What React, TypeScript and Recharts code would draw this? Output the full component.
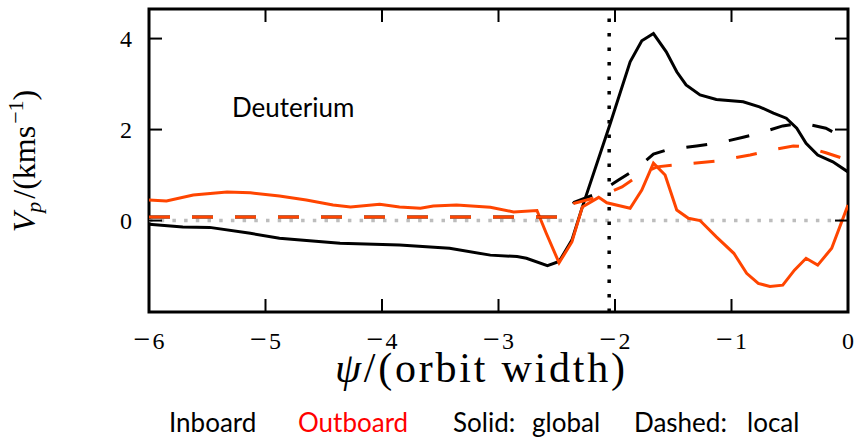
import { LineChart, Line, XAxis, YAxis, ReferenceLine, ReferenceArea } from 'recharts'

// psi positions (orbit widths) and parallel velocity Vp (km/s)
const psiInGlobal = [-6, -5.71, -5.48, -5.13, -4.88, -4.7, -4.36, -3.85, -3.42, -3.07, -2.84, -2.76, -2.58, -2.48, -2.37, -2.28, -2.04, -1.87, -1.77, -1.67, -1.56, -1.47, -1.39, -1.27, -1.13, -0.9, -0.76, -0.64, -0.53, -0.44, -0.36, -0.26, -0.13, 0]
const vpInGlobal = [-0.08, -0.14, -0.15, -0.28, -0.39, -0.43, -0.5, -0.54, -0.61, -0.76, -0.79, -0.83, -0.99, -0.9, -0.43, 0.3, 2.14, 3.49, 3.95, 4.11, 3.71, 3.27, 2.98, 2.76, 2.66, 2.61, 2.5, 2.36, 2.25, 2.03, 1.7, 1.44, 1.29, 1.07]

const psiOutGlobal = [-6, -5.85, -5.62, -5.33, -5.13, -4.88, -4.65, -4.42, -4.27, -4.02, -3.85, -3.67, -3.56, -3.36, -3.07, -2.87, -2.67, -2.59, -2.48, -2.37, -2.28, -2.14, -2.07, -1.87, -1.77, -1.67, -1.57, -1.47, -1.37, -1.27, -1.13, -0.98, -0.87, -0.77, -0.67, -0.56, -0.46, -0.36, -0.26, -0.14, 0]
const vpOutGlobal = [0.45, 0.43, 0.56, 0.63, 0.61, 0.54, 0.45, 0.34, 0.3, 0.36, 0.3, 0.27, 0.32, 0.34, 0.29, 0.19, 0.22, -0.28, -0.93, -0.47, 0.3, 0.51, 0.39, 0.27, 0.67, 1.26, 1.0, 0.23, 0.05, 0.0, -0.36, -0.72, -1.16, -1.38, -1.45, -1.42, -1.09, -0.83, -0.98, -0.61, 0.34]

const psiInLocal = [-6, -2.46, -2.35, -2.14, -1.97, -1.81, -1.67, -1.56, -1.3, -1.1, -0.9, -0.76, -0.56, -0.39, -0.19, 0]
const vpInLocal = [0.08, 0.08, 0.4, 0.61, 0.89, 1.15, 1.46, 1.55, 1.64, 1.71, 1.83, 1.92, 2.08, 2.14, 2.03, 1.77]

const psiOutLocal = [-6, -2.46, -2.35, -2.14, -1.94, -1.79, -1.64, -1.41, -1.13, -0.84, -0.64, -0.47, -0.36, -0.19, 0]
const vpOutLocal = [0.08, 0.08, 0.38, 0.52, 0.74, 1.0, 1.18, 1.24, 1.31, 1.44, 1.56, 1.64, 1.62, 1.49, 1.33]

const xTicks = [-6, -5, -4, -3, -2, -1, 0]
const yTicks = [0, 2, 4]
const separatrix = -2.05

const X_MIN = -6
const X_MAX = 0
const Y_MIN = -2.01
const Y_MAX = 4.65

const W = 856
const H = 437
const LEFT = 149
const RIGHT = 848
const TOP = 9
const BOTTOM = 312
const TICK = 13

const ORANGE = '#ff4500'
const SERIF = '"Liberation Serif", "Times New Roman", serif'
const SANS = 'Lato, "Open Sans", sans-serif'

const toPoints = (xs: number[], ys: number[]) => xs.map((x, i) => ({ x, y: ys[i] }))

const inGlobal = toPoints(psiInGlobal, vpInGlobal)
const outGlobal = toPoints(psiOutGlobal, vpOutGlobal)
const inLocal = toPoints(psiInLocal, vpInLocal)
const outLocal = toPoints(psiOutLocal, vpOutLocal)

// math-style tick label: wide minus sign, small gap before the digit
function TickText({ x, y, value, anchor }: { x: number; y: number; value: number; anchor: 'middle' | 'end' }) {
  return (
    <text x={x} y={y} textAnchor={anchor} fontFamily={SERIF} fontSize={24} fill="#000">
      {value < 0 && <tspan fontSize={30}>{'\u2212'}</tspan>}
      <tspan dx={value < 0 ? 2 : 0}>{Math.abs(value)}</tspan>
    </text>
  )
}

// inward ticks on bottom and top edges, label under the frame
function XTick({ x, payload }: any) {
  return (
    <g>
      <line x1={x} y1={BOTTOM} x2={x} y2={BOTTOM - TICK} stroke="#000" strokeWidth={2} />
      <line x1={x} y1={TOP} x2={x} y2={TOP + TICK} stroke="#000" strokeWidth={2} />
      <TickText x={x} y={BOTTOM + 37} value={payload.value} anchor="middle" />
    </g>
  )
}

// inward ticks on left and right edges
function YTick({ y, payload }: any) {
  return (
    <g>
      <line x1={LEFT} y1={y} x2={LEFT + TICK} y2={y} stroke="#000" strokeWidth={2} />
      <line x1={RIGHT} y1={y} x2={RIGHT - TICK} y2={y} stroke="#000" strokeWidth={2} />
      <TickText x={LEFT - 17} y={y + 8} value={payload.value} anchor="end" />
    </g>
  )
}

const legendWords = [
  { text: 'Inboard', x: 169, color: '#000' },
  { text: 'Outboard', x: 298, color: '#ff0000' },
  { text: 'Solid:', x: 453, color: '#000' },
  { text: 'global', x: 532, color: '#000' },
  { text: 'Dashed:', x: 634, color: '#000' },
  { text: 'local', x: 747, color: '#000' },
]

export default function App() {
  return (
    <div style={{ position: 'absolute', left: 0, top: 0, width: W, height: H, background: '#fff' }}>
      <LineChart width={W} height={H} margin={{ top: TOP, right: W - RIGHT, bottom: 0, left: 0 }}>
        <XAxis
          dataKey="x"
          type="number"
          domain={[X_MIN, X_MAX]}
          ticks={xTicks}
          allowDataOverflow
          height={H - BOTTOM}
          axisLine={false}
          tickLine={false}
          tickSize={0}
          tickMargin={0}
          tick={<XTick />}
          interval={0}
        />
        <YAxis
          type="number"
          domain={[Y_MIN, Y_MAX]}
          ticks={yTicks}
          allowDataOverflow
          width={LEFT}
          axisLine={false}
          tickLine={false}
          tickSize={0}
          tickMargin={0}
          tick={<YTick />}
          interval={0}
        />
        <ReferenceLine y={0} stroke="#bdbdbd" strokeWidth={3.5} strokeDasharray="3.5 8.2" />
        <Line data={inGlobal} dataKey="y" type="linear" stroke="#000" strokeWidth={3} dot={false} isAnimationActive={false} />
        <Line data={outGlobal} dataKey="y" type="linear" stroke={ORANGE} strokeWidth={3} dot={false} isAnimationActive={false} />
        <Line data={inLocal} dataKey="y" type="linear" stroke="#000" strokeWidth={3} strokeDasharray="21 22" dot={false} isAnimationActive={false} />
        <Line data={outLocal} dataKey="y" type="linear" stroke={ORANGE} strokeWidth={3} strokeDasharray="21 22" dot={false} isAnimationActive={false} />
        <ReferenceLine x={separatrix} stroke="#000" strokeWidth={3.5} strokeDasharray="3.5 11" />
        <ReferenceArea x1={X_MIN} x2={X_MAX} y1={Y_MIN} y2={Y_MAX} fill="none" fillOpacity={0} stroke="#000" strokeWidth={3} />
      </LineChart>
      <svg width={W} height={H} style={{ position: 'absolute', left: 0, top: 0, pointerEvents: 'none' }}>
        <text x={232} y={117} fontFamily={SANS} fontSize={26} fill="#000">Deuterium</text>
        <g transform="translate(35,161) rotate(-90)">
          <text x={0} y={0} textAnchor="middle" fontFamily={SERIF} fontSize={32} fill="#000">
            <tspan fontStyle="italic">V</tspan>
            <tspan fontStyle="italic" fontSize={22} dy={6}>p</tspan>
            <tspan dx={3} dy={-6}>/(kms</tspan>
            <tspan fontSize={22} dx={2} dy={-12}>{'\u22121'}</tspan>
            <tspan dy={12}>)</tspan>
          </text>
        </g>
        <text x={335} y={382} fontFamily={SERIF} fontSize={42} fill="#000" textLength={290}>
          <tspan fontStyle="italic">ψ</tspan>/(orbit width)
        </text>
        <g fontFamily={SANS} fontSize={26}>
          {legendWords.map((w) => (
            <text key={w.text} x={w.x} y={432} fill={w.color}>
              {w.text}
            </text>
          ))}
        </g>
      </svg>
    </div>
  )
}
